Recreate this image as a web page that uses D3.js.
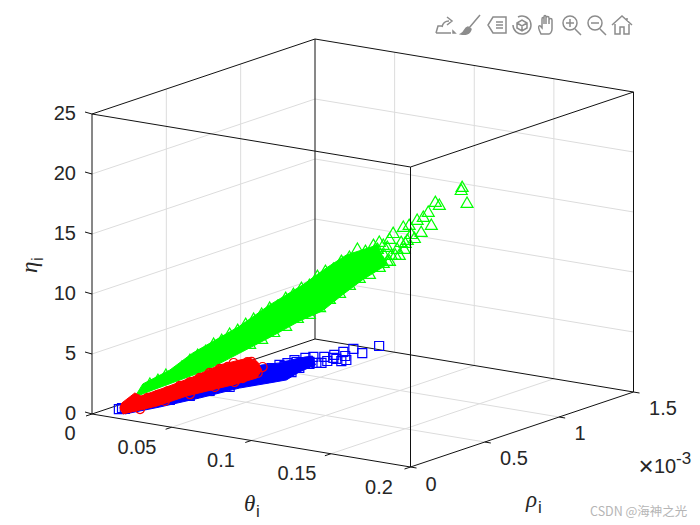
<!DOCTYPE html>
<html>
<head>
<meta charset="utf-8">
<style>
html, body { margin: 0; padding: 0; background: #fff; }
svg { display: block; }
text { font-family: "Liberation Sans", Arial, sans-serif; fill: #262626; }
</style>
<script src="https://cdn.jsdelivr.net/npm/d3@7"></script>
</head>
<body>
<svg id="canvas" width="700" height="525"></svg>
<script>
// rho values are in units of 1e-3, same as the axis multiplier
var thetaTicks = [0, 0.05, 0.1, 0.15, 0.2];
var rhoTicks = [0, 0.5, 1, 1.5];
var etaTicks = [0, 5, 10, 15, 20, 25];

var blueTheta = [.0123,.0137,.0150,.0356,.0447,.0538,.0629,.0720,.0789,.0857,.0912,.0948,.0994,.0821,.0880,.0935,.1313,.1236,.1195,.1149,.1163,.1117,.1140,.1104,.1062,.1049,.1026,.1012,.1076,.0976,.0926,.0894,.0857,.0994,.1108,.1158];
var blueRho = [.049,.055,.060,.142,.179,.215,.252,.288,.316,.343,.365,.379,.398,.328,.352,.374,.525,.494,.478,.460,.465,.447,.456,.441,.425,.420,.410,.405,.430,.390,.370,.357,.343,.398,.443,.463];
var blueEta = [.48,.57,.50,1.36,1.74,2.21,2.59,3.14,3.43,3.72,3.99,4.35,4.71,4.28,4.48,4.84,6.38,5.75,6.07,5.79,5.13,5.19,5.03,5.27,5.33,4.82,4.81,5.30,5.00,5.20,5.00,4.73,4.55,4.88,5.52,5.46];

var greenTheta = [.0188,.0214,.0240,.0266,.0292,.0318,.0343,.0369,.0395,.0421,.0447,.0473,.0499,.0525,.0551,.0577,.0603,.0629,.0654,.0680,.0706,.0732,.0758,.0784,.0810,.0836,.0862,.0888,.0914,.0933,
  .0512,.0551,.0590,.0629,.0667,.0706,.0739,.0771,.0804,.0836,.0868,.0901,.0933,.0966,.0985,
  .1202,.1199,.1218,.1115,.1128,.1092,.1102,.1069,.1076,.1056,.1011,.1030,.0978,.1004,.1047,.1024,.0959,.0991,.0972,.1014,.1037,.0949,.0920,.0946,
  .0927,.0966,.0946,.0914,.0936,.0959,.0998,.1017];
var greenRho = [.188,.214,.240,.266,.292,.318,.343,.369,.395,.421,.447,.473,.499,.525,.551,.577,.603,.629,.654,.680,.706,.732,.758,.784,.810,.836,.862,.888,.914,.933,
  .512,.551,.590,.629,.667,.706,.739,.771,.804,.836,.868,.901,.933,.966,.985,
  1.202,1.199,1.218,1.115,1.128,1.092,1.102,1.069,1.076,1.056,1.011,1.030,.978,1.004,1.047,1.024,.959,.991,.972,1.014,1.037,.949,.920,.946,
  .927,.966,.946,.914,.936,.959,.998,1.017];
var greenEta = [2.05,2.33,2.70,2.73,3.27,3.79,4.16,4.44,4.98,5.26,5.71,5.99,6.44,6.81,7.18,7.63,7.73,8.35,8.63,9.08,9.28,9.98,10.35,10.47,11.08,11.37,11.98,11.76,12.21,12.43,
  4.75,5.09,5.59,6.02,6.61,6.87,7.38,7.99,8.43,9.03,9.55,9.82,10.34,10.78,11.24,
  16.48,16.23,15.12,15.40,15.13,14.62,13.51,12.99,14.23,14.02,13.53,13.65,13.08,12.28,12.53,12.42,11.96,11.73,11.27,11.68,12.88,11.31,11.70,10.65,
  11.85,12.61,12.15,11.21,11.00,10.79,11.22,12.18];

var redTheta = [.0460,.0518,.0554,.0538,.0496,.0489,.0528,.0505,.0107,.0130,.0181,.0214,.0246,.0285,.0318,.0350,.0382,.0415,.0441,.0480,.0156,.0237,.0318,.0399,.0463];
var redRho = [.460,.518,.554,.538,.496,.489,.528,.505,.107,.130,.181,.214,.246,.285,.318,.350,.382,.415,.441,.480,.156,.237,.318,.399,.463];
var redEta = [3.35,3.32,2.83,2.37,2.70,2.04,2.80,3.34,.29,.75,.98,1.17,1.43,1.78,2.04,2.32,2.67,2.94,3.06,3.14,.11,.62,1.04,1.47,1.76];

// outlines of the regions where the markers overlap into a solid mass
var blueMassTheta = [.0137,.0775,.0857,.0948,.1008,.1021,.0948,.0889,.0812,.0675,.0492,.0310,.0150];
var blueMassRho = [.055,.310,.343,.379,.403,.409,.379,.356,.325,.270,.197,.124,.060];
var blueMassEta = [.83,4.50,4.72,5.18,5.38,4.64,4.02,3.32,3.03,2.53,1.60,.75,.08];

var greenMassTheta = [.0139,.0165,.0253,.0327,.0424,.0480,.0577,.0684,.0761,.0826,.0927,.0956,.0878,.0813,.0748,.0674,.0586,.0480,.0373,.0198];
var greenMassRho = [.139,.165,.253,.327,.424,.480,.577,.684,.761,.826,.927,.956,.878,.813,.748,.674,.586,.480,.373,.198];
var greenMassEta = [1.14,2.18,3.17,4.44,5.67,6.39,7.96,9.41,10.68,11.63,12.27,10.55,9.45,8.33,7.12,6.43,5.35,4.14,2.93,1.62];

var redMassTheta = [.0097,.0139,.0159,.0243,.0327,.0415,.0480,.0512,.0538,.0551,.0535,.0457,.0415,.0308,.0211,.0176,.0091];
var redMassRho = [.097,.139,.159,.243,.327,.415,.480,.512,.538,.551,.535,.457,.415,.308,.211,.020,.091];
var redMassEta = [.73,1.48,1.19,1.78,2.44,3.28,3.56,3.67,3.28,2.59,1.95,1.53,1.36,.90,.25,.31,.33];

var originX = 92, originY = 414;
var thetaX = d3.scaleLinear().domain([0, 0.2]).range([0, 318.5]);
var thetaY = d3.scaleLinear().domain([0, 0.2]).range([0, 53]);
var rhoX = d3.scaleLinear().domain([0, 1.5]).range([0, 223]);
var rhoY = d3.scaleLinear().domain([0, 1.5]).range([0, -75]);
var etaY = d3.scaleLinear().domain([0, 25]).range([0, -300]);

function project(t, r, e) {
	return [originX + thetaX(t) + rhoX(r), originY + thetaY(t) + rhoY(r) + etaY(e)];
}

var svg = d3.select("#canvas");
var tMax = 0.2, rMax = 1.5, eMax = 25;
var gridColor = "#dcdcdc", boxColor = "#111";

function seg(g, a, b, color, width) {
	g.append("line")
		.attr("x1", a[0]).attr("y1", a[1])
		.attr("x2", b[0]).attr("y2", b[1])
		.attr("stroke", color)
		.attr("stroke-width", width);
}

// grid on the floor and the two back walls
var grid = svg.append("g");
thetaTicks.slice(1, -1).forEach(function(t) {
	seg(grid, project(t, 0, 0), project(t, rMax, 0), gridColor, 1);
	seg(grid, project(t, rMax, 0), project(t, rMax, eMax), gridColor, 1);
});
rhoTicks.slice(1, -1).forEach(function(r) {
	seg(grid, project(0, r, 0), project(tMax, r, 0), gridColor, 1);
	seg(grid, project(0, r, 0), project(0, r, eMax), gridColor, 1);
});
etaTicks.slice(1, -1).forEach(function(e) {
	seg(grid, project(0, 0, e), project(0, rMax, e), gridColor, 1);
	seg(grid, project(0, rMax, e), project(tMax, rMax, e), gridColor, 1);
});

// box edges behind the points
var back = svg.append("g");
seg(back, project(0, rMax, 0), project(0, rMax, eMax), boxColor, 1);
seg(back, project(0, 0, 0), project(0, rMax, 0), boxColor, 1);
seg(back, project(0, rMax, 0), project(tMax, rMax, 0), boxColor, 1);
seg(back, project(0, 0, 0), project(tMax, 0, 0), boxColor, 1);
seg(back, project(tMax, 0, 0), project(tMax, rMax, 0), boxColor, 1);
seg(back, project(0, 0, 0), project(0, 0, eMax), boxColor, 1);
seg(back, project(tMax, rMax, 0), project(tMax, rMax, eMax), boxColor, 1);
seg(back, project(0, 0, eMax), project(0, rMax, eMax), boxColor, 1);
seg(back, project(0, rMax, eMax), project(tMax, rMax, eMax), boxColor, 1);

// tick marks
thetaTicks.forEach(function(t) {
	var p = project(t, 0, 0);
	seg(back, p, [p[0] - 6, p[1] + 2], boxColor, 1);
});
rhoTicks.forEach(function(r) {
	var p = project(tMax, r, 0);
	seg(back, p, [p[0] + 6, p[1] + 1], boxColor, 1);
});
etaTicks.forEach(function(e) {
	var p = project(0, 0, e);
	seg(back, p, [p[0] - 7, p[1] - 2], boxColor, 1);
});

function drawSeries(mt, mr, me, ts, rs, es, color, symbolType, size) {
	var g = svg.append("g");
	var massPoints = mt.map(function(t, i) { return project(t, mr[i], me[i]); });
	g.append("path")
		.attr("d", d3.line().curve(d3.curveLinearClosed)(massPoints))
		.attr("fill", color)
		.attr("stroke", color);
	var symbol = d3.symbol().type(symbolType).size(size);
	g.selectAll("path.pt").data(ts).enter()
		.append("path")
		.attr("class", "pt")
		.attr("d", symbol())
		.attr("transform", function(d, i) {
			var p = project(d, rs[i], es[i]);
			return "translate(" + p[0] + "," + p[1] + ")";
		})
		.attr("fill", "none")
		.attr("stroke", color)
		.attr("stroke-width", 1.2);
}

drawSeries(blueMassTheta, blueMassRho, blueMassEta, blueTheta, blueRho, blueEta, "#0000ff", d3.symbolSquare, 81);
drawSeries(greenMassTheta, greenMassRho, greenMassEta, greenTheta, greenRho, greenEta, "#00ff00", d3.symbolTriangle, 62);
drawSeries(redMassTheta, redMassRho, redMassEta, redTheta, redRho, redEta, "#ff0000", d3.symbolCircle, 64);

// front edges stay on top of the points
var front = svg.append("g");
seg(front, project(tMax, 0, 0), project(tMax, 0, eMax), boxColor, 1);
seg(front, project(0, 0, eMax), project(tMax, 0, eMax), boxColor, 1);
seg(front, project(tMax, 0, eMax), project(tMax, rMax, eMax), boxColor, 1);

// tick labels
var labels = svg.append("g").style("font-size", "20px");
function label(txt, x, y, anchor) {
	return labels.append("text")
		.attr("x", x).attr("y", y)
		.attr("text-anchor", anchor || "middle")
		.attr("dominant-baseline", "central")
		.text(txt);
}
etaTicks.forEach(function(e) {
	label(e, 76, project(0, 0, e)[1] - 1, "end");
});
var thetaLabelPos = [[70, 433], [137, 447], [221, 460], [297, 473], [379, 487]];
thetaTicks.forEach(function(t, i) {
	label(t, thetaLabelPos[i][0], thetaLabelPos[i][1]);
});
var rhoLabelPos = [[431, 484], [514, 458], [580, 433], [663, 408]];
rhoTicks.forEach(function(r, i) {
	label(r, rhoLabelPos[i][0], rhoLabelPos[i][1]);
});

// multiplier
label("\u00d7", 646, 466).style("font-size", "26px").style("font-weight", "300");
label("10", 654, 466, "start");
label("-3", 676, 458, "start").style("font-size", "17px");

// axis labels
function greekLabel(g, sym) {
	g.append("text").attr("x", 0).attr("y", 0)
		.style("font-family", '"Liberation Serif", serif')
		.style("font-style", "italic")
		.style("font-size", "23px")
		.text(sym);
	g.append("text").attr("x", 12).attr("y", 6)
		.style("font-size", "17px")
		.text("i");
}
greekLabel(svg.append("g").attr("transform", "translate(244,511)"), "\u03b8");
greekLabel(svg.append("g").attr("transform", "translate(526,507)"), "\u03c1");
greekLabel(svg.append("g").attr("transform", "translate(37,273) rotate(-90)"), "\u03b7");

// toolbar icons
var iconData = [
	{x: 445, d: "M-9 8H6M-9 8L-7 1H-2M-3 2C-2 -3 1 -4 4 -4M2 -8L7 -4L2 0M8 6L10 8H8Z"},
	{x: 470, d: "M10 -10L-1 3M-2 2C-6 3 -5 7 -9 9C-5 10 0 9 1 4Z"},
	{x: 497, d: "M-4 -8H9V8H-4L-9 0ZM-1 -3H6M-1 0H6M-1 3H6"},
	{x: 522, d: "M-9 0A9 9 0 1 0 -4 -8M-5 -2L0 -5L5 -2V3L0 6L-5 3ZM-5 -2L0 1L5 -2M0 1V6"},
	{x: 547, d: "M-6 9C-8 5 -9 2 -8 1C-7 0 -6 2 -5 3V-6C-5 -8 -3 -8 -3 -6V-1V-8C-3 -10 -1 -10 -1 -8V-1V-7C-1 -9 2 -9 2 -7V-1V-5C2 -7 5 -7 5 -5V4C5 7 3 9 2 9Z"},
	{x: 571, d: "M6 -2A7 7 0 1 0 -8 -2A7 7 0 1 0 6 -2M4 4L10 10M-1 -6V2M-5 -2H3"},
	{x: 596, d: "M6 -2A7 7 0 1 0 -8 -2A7 7 0 1 0 6 -2M4 4L10 10M-5 -2H3"},
	{x: 622, d: "M-10 0L0 -9L10 0M-7 -1V9H-2V2H2V9H7V-1M5 -7V-4"}
];
svg.append("g").selectAll("path").data(iconData).enter()
	.append("path")
	.attr("transform", function(d) { return "translate(" + d.x + ",25)"; })
	.attr("d", function(d) { return d.d; })
	.attr("fill", function(d, i) { return i === 1 ? "#8c8c8c" : "none"; })
	.attr("stroke", "#8c8c8c")
	.attr("stroke-width", 1.5);

// watermark
svg.append("text")
	.attr("x", 590).attr("y", 516)
	.style("font-family", '"Noto Sans CJK SC", "Liberation Sans", sans-serif')
	.style("font-size", "12.5px")
	.style("fill", "#b5b5b5")
	.text("CSDN @\u6d77\u795e\u4e4b\u5149");
</script>
</body>
</html>
